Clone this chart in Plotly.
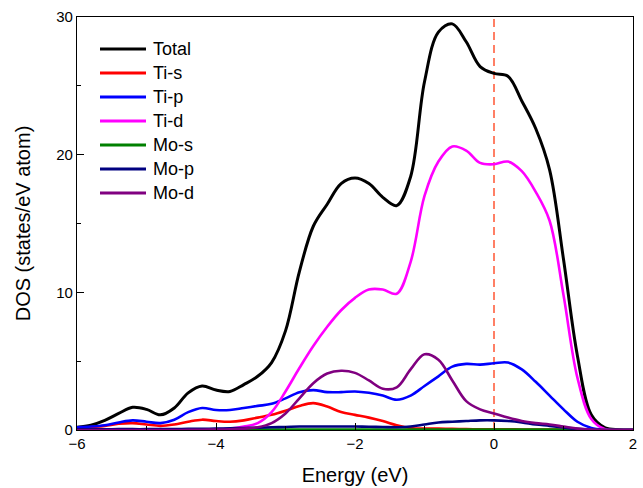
import plotly.graph_objects as go

# Energy grid (eV) relative to the Fermi level
energy = [-6.0, -5.8, -5.6, -5.4, -5.2, -5.0, -4.8, -4.6, -4.4, -4.2,
          -4.0, -3.8, -3.6, -3.4, -3.2, -3.0, -2.8, -2.6, -2.4, -2.2,
          -2.0, -1.8, -1.6, -1.4, -1.2, -1.0, -0.8, -0.6, -0.4, -0.2,
          0.0, 0.2, 0.4, 0.6, 0.8, 1.0, 1.2, 1.4, 1.6, 1.8, 2.0]

total = [0.2, 0.35, 0.7, 1.2, 1.65, 1.5, 1.1, 1.6, 2.7, 3.2,
         2.9, 2.8, 3.3, 3.9, 4.9, 7.2, 11.5, 14.8, 16.4, 17.9,
         18.3, 17.9, 16.9, 16.3, 18.4, 25.3, 28.9, 29.5, 28.2, 26.4,
         25.9, 25.7, 23.9, 21.9, 18.9, 12.4, 5.4, 1.1, 0.15, 0.02, 0.0]

ti_s = [0.1, 0.2, 0.3, 0.45, 0.5, 0.4, 0.3, 0.4, 0.6, 0.75,
        0.65, 0.6, 0.7, 0.9, 1.1, 1.4, 1.75, 1.95, 1.7, 1.3,
        1.1, 0.9, 0.65, 0.35, 0.15, 0.1, 0.1, 0.08, 0.06, 0.05,
        0.05, 0.05, 0.04, 0.04, 0.03, 0.02, 0.01, 0.0, 0.0, 0.0, 0.0]

ti_p = [0.2, 0.25, 0.35, 0.55, 0.7, 0.6, 0.5, 0.75, 1.3, 1.6,
        1.45, 1.45, 1.6, 1.75, 1.9, 2.3, 2.75, 2.9, 2.75, 2.75,
        2.8, 2.7, 2.5, 2.2, 2.5, 3.2, 3.9, 4.6, 4.8, 4.75,
        4.85, 4.9, 4.4, 3.5, 2.5, 1.5, 0.6, 0.15, 0.02, 0.0, 0.0]

ti_d = [0.0, 0.0, 0.0, 0.0, 0.01, 0.01, 0.01, 0.02, 0.03, 0.04,
        0.05, 0.1, 0.25, 0.5, 1.3, 2.8, 4.5, 6.1, 7.5, 8.7,
        9.6, 10.2, 10.2, 9.9, 12.2, 17.0, 19.5, 20.6, 20.3, 19.4,
        19.3, 19.5, 18.8, 17.3, 15.2, 9.8, 3.8, 0.8, 0.05, 0.0, 0.0]

mo_s = [0.02, 0.02, 0.02, 0.03, 0.03, 0.03, 0.03, 0.03, 0.03, 0.03,
        0.03, 0.03, 0.03, 0.03, 0.04, 0.04, 0.04, 0.04, 0.04, 0.04,
        0.04, 0.04, 0.04, 0.04, 0.04, 0.04, 0.04, 0.04, 0.04, 0.04,
        0.04, 0.04, 0.03, 0.03, 0.03, 0.02, 0.01, 0.0, 0.0, 0.0, 0.0]

mo_p = [0.05, 0.05, 0.05, 0.06, 0.06, 0.06, 0.07, 0.07, 0.08, 0.09,
        0.1, 0.12, 0.15, 0.17, 0.2, 0.22, 0.25, 0.25, 0.25, 0.25,
        0.25, 0.24, 0.22, 0.2, 0.25, 0.4, 0.55, 0.6, 0.65, 0.7,
        0.7, 0.65, 0.55, 0.4, 0.3, 0.18, 0.08, 0.02, 0.0, 0.0, 0.0]

mo_d = [0.0, 0.0, 0.0, 0.0, 0.0, 0.0, 0.0, 0.0, 0.01, 0.02,
        0.03, 0.05, 0.1, 0.2, 0.5, 1.2, 2.3, 3.4, 4.1, 4.3,
        4.15, 3.6, 3.0, 3.1, 4.4, 5.5, 5.1, 3.6, 2.1, 1.5,
        1.2, 0.9, 0.65, 0.5, 0.4, 0.25, 0.1, 0.03, 0.0, 0.0, 0.0]

names = ["Total", "Ti-s", "Ti-p", "Ti-d", "Mo-s", "Mo-p", "Mo-d"]
series = [total, ti_s, ti_p, ti_d, mo_s, mo_p, mo_d]
colors = ["#000000", "#ff0000", "#0000ff", "#ff00ff", "#008000", "#000080", "#800080"]

FONT = "Liberation Sans, Arial, sans-serif"

fig = go.Figure()
for name, vals, col in zip(names, series, colors):
    fig.add_trace(go.Scatter(
        x=energy, y=vals, name=name, mode="lines",
        line=dict(color=col, width=3 if name == "Total" else 2.6,
                  shape="spline", smoothing=1.0),
        showlegend=False,
    ))

# Fermi level marker
fig.add_shape(type="line", xref="x", yref="paper", x0=0, x1=0, y0=0, y1=1,
              line=dict(color="#ff5533", width=1.5, dash="8px,5px"), layer="below")

# Hand-placed legend: long line samples with labels
row0_px, row_step_px, plot_top, plot_h, plot_w = 49, 24, 17, 413, 556
for i, (name, col) in enumerate(zip(names, colors)):
    yp = 1 - (row0_px + i * row_step_px - plot_top) / plot_h
    fig.add_shape(type="line", xref="paper", yref="paper",
                  x0=23 / plot_w, x1=69 / plot_w, y0=yp, y1=yp,
                  line=dict(color=col, width=3))
    fig.add_annotation(xref="paper", yref="paper", x=74 / plot_w, y=yp,
                       text=name, showarrow=False, xanchor="left", yanchor="middle",
                       font=dict(family=FONT, size=18, color="#000000"))

axis_common = dict(
    showline=True, linecolor="#000000", linewidth=1.3, mirror=True,
    ticks="inside", ticklen=7, tickwidth=1.2, tickcolor="#000000",
    showgrid=False, zeroline=False, automargin=False,
    tickfont=dict(family=FONT, size=15, color="#000000"),
)

fig.update_xaxes(
    range=[-6, 2], dtick=2, tick0=-6,
    minor=dict(ticks="inside", dtick=1, ticklen=4, tickwidth=1.2, tickcolor="#000000"),
    title=dict(text="Energy (eV)", font=dict(family=FONT, size=20, color="#000000"), standoff=16),
    **axis_common,
)
fig.update_yaxes(
    range=[0, 30], dtick=10, tick0=0,
    minor=dict(ticks="inside", dtick=5, ticklen=4, tickwidth=1.2, tickcolor="#000000"),
    title=dict(text="DOS (states/eV atom)", font=dict(family=FONT, size=20, color="#000000"), standoff=20),
    **axis_common,
)

fig.update_layout(
    width=643, height=488,
    margin=dict(l=77, r=10, t=17, b=58),
    paper_bgcolor="#ffffff", plot_bgcolor="#ffffff",
    font=dict(family=FONT, color="#000000"),
)

fig.write_html("out.html")
